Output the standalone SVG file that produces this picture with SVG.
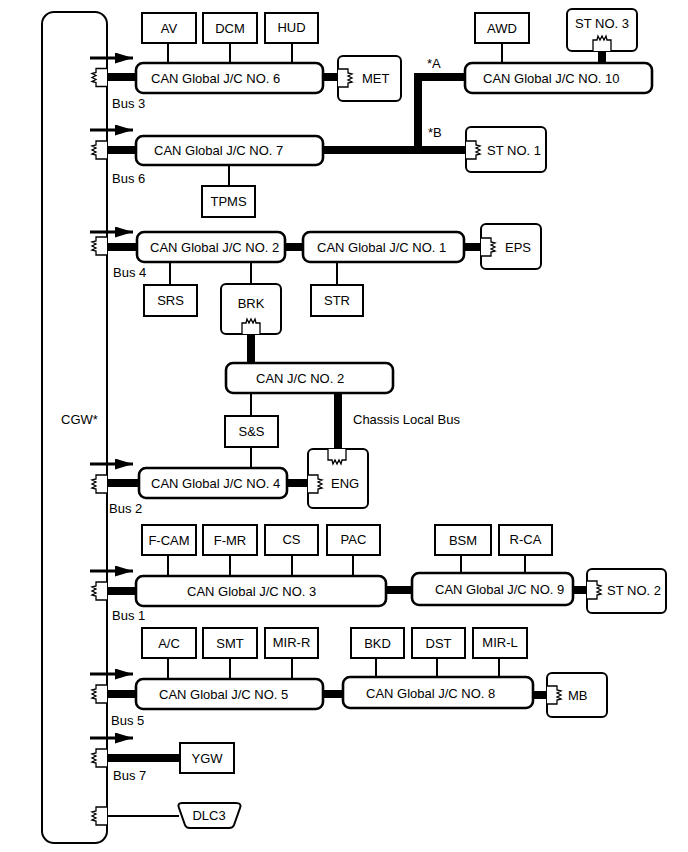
<svg xmlns="http://www.w3.org/2000/svg" width="688" height="852" viewBox="0 0 688 852">
<style>
text{font-family:"Liberation Sans",Arial,sans-serif;font-size:13px;fill:#000}
.c{text-anchor:middle}
.jc{fill:#fff;stroke:#000;stroke-width:2.6}
.bx{fill:#fff;stroke:#000;stroke-width:2}
.thin{stroke:#000;stroke-width:2;fill:none}
.bus{stroke:#000;stroke-width:8;fill:none}
.arr{stroke:#000;stroke-width:2.8;fill:none}
.res{fill:#fff;stroke:#000;stroke-width:1.3}
</style>
<defs>
<marker id="ah" markerUnits="userSpaceOnUse" markerWidth="19" markerHeight="11" refX="18" refY="5.5" orient="auto">
<path d="M0,0L18,5.5L0,11z" fill="#000"/>
</marker>
<path id="rL" d="M11,-9H0V-5L-4,-4L0,-2L-4,0L0,2L-4,4L0,5V9H11"/>
<path id="rR" d="M0,-9H10V-5L14,-4L10,-2L14,0L10,2L14,4L10,5V9H0"/>
<path id="rT" d="M-9,0V-11H-5L-4,-15L-2,-11L0,-15L2,-11L4,-15L5,-11H9V0"/>
<path id="rB" d="M-9,0V11H-5L-4,15L-2,11L0,15L2,11L4,15L5,11H9V0"/>
</defs>

<g id="CGW">
<rect x="42" y="12" width="65" height="831" rx="12" fill="none" stroke="#000" stroke-width="2"/>
<text x="61" y="424">CGW*</text>
</g>

<g id="connectors">
<path class="bus" d="M107,77H136M323,77H338"/>
<path class="bus" d="M107,150H136M323,150H466M418,150V77H465"/>
<path class="bus" d="M602,51V63"/>
<path class="bus" d="M107,247H137M285,247H303M464,247H481"/>
<path class="bus" d="M251,334V363M338,393V450"/>
<path class="bus" d="M107,483H139M287,483H308"/>
<path class="bus" d="M107,591H136M386,590H412M573,590H587"/>
<path class="bus" d="M107,694H136M323,694H343M533,695H547"/>
<path class="bus" d="M107,758H180"/>
<path class="thin" d="M107,816H179"/>
<path class="thin" d="M168,43V63M230,43V63M292,43V63M502,43V63"/>
<path class="thin" d="M229,165V186"/>
<path class="thin" d="M170,262V285M251,262V284M337,262V285"/>
<path class="thin" d="M251,393V416M251,447V468"/>
<path class="thin" d="M168,555V576M230,555V576M292,555V576M353,555V576M461,555V573M525,555V573"/>
<path class="thin" d="M168,658V679M230,658V679M292,658V679M376,658V677M437,658V677M499,658V677"/>
<g class="arr" marker-end="url(#ah)">
<line x1="90" y1="58" x2="133" y2="58"/>
<line x1="90" y1="130" x2="133" y2="130"/>
<line x1="90" y1="232" x2="133" y2="232"/>
<line x1="90" y1="464" x2="133" y2="464"/>
<line x1="90" y1="571" x2="133" y2="571"/>
<line x1="90" y1="674" x2="133" y2="674"/>
<line x1="90" y1="738" x2="133" y2="738"/>
</g>
</g>

<g id="CGW-terminators" class="res">
<use href="#rL" x="96" y="77.5"/>
<use href="#rL" x="96" y="150"/>
<use href="#rL" x="96" y="246"/>
<use href="#rL" x="96" y="484"/>
<use href="#rL" x="96" y="591"/>
<use href="#rL" x="96" y="694"/>
<use href="#rL" x="96" y="758"/>
<use href="#rL" x="96" y="816"/>
</g>

<g id="bus-labels">
<text x="112" y="108">Bus 3</text>
<text x="112" y="183">Bus 6</text>
<text x="113" y="277">Bus 4</text>
<text x="109" y="513">Bus 2</text>
<text x="112" y="620">Bus 1</text>
<text x="111" y="725">Bus 5</text>
<text x="113" y="780">Bus 7</text>
<text x="427" y="68">*A</text>
<text x="428" y="137">*B</text>
<text x="353" y="424">Chassis Local Bus</text>
</g>

<g id="AV"><rect class="bx" x="142" y="13" width="54" height="30"/><text class="c" x="169" y="33">AV</text></g>
<g id="DCM"><rect class="bx" x="203" y="13" width="54" height="30"/><text class="c" x="230" y="33">DCM</text></g>
<g id="HUD"><rect class="bx" x="265" y="13" width="53" height="30"/><text class="c" x="291.5" y="32">HUD</text></g>
<g id="JC6"><rect class="jc" x="136" y="63" width="187" height="30" rx="7"/><text x="151" y="83">CAN Global J/C NO. 6</text></g>
<g id="MET"><rect class="bx" x="338" y="56" width="63" height="45" rx="5"/><use class="res" href="#rR" x="338" y="78"/><text x="362" y="83">MET</text></g>

<g id="JC7"><rect class="jc" x="136" y="136" width="187" height="29" rx="7"/><text x="154" y="155">CAN Global J/C NO. 7</text></g>
<g id="TPMS"><rect class="bx" x="202" y="186" width="53" height="31"/><text class="c" x="228.5" y="206">TPMS</text></g>
<g id="AWD"><rect class="bx" x="475" y="13" width="54" height="30"/><text class="c" x="502" y="33">AWD</text></g>
<g id="ST3"><rect class="bx" x="567" y="9" width="70" height="42" rx="5"/><text class="c" x="602" y="28">ST NO. 3</text><use class="res" href="#rT" x="602" y="51"/></g>
<g id="JC10"><rect class="jc" x="465" y="63" width="187" height="30" rx="7"/><text x="483" y="83">CAN Global J/C NO. 10</text></g>
<g id="ST1"><rect class="bx" x="466" y="127" width="80" height="45" rx="5"/><use class="res" href="#rR" x="466" y="150"/><text x="487" y="155">ST NO. 1</text></g>

<g id="JC2"><rect class="jc" x="137" y="232" width="148" height="30" rx="7"/><text x="150" y="252">CAN Global J/C NO. 2</text></g>
<g id="JC1"><rect class="jc" x="303" y="232" width="161" height="30" rx="7"/><text x="317" y="252">CAN Global J/C NO. 1</text></g>
<g id="EPS"><rect class="bx" x="481" y="224" width="60" height="45" rx="5"/><use class="res" href="#rR" x="481" y="247"/><text x="505" y="252">EPS</text></g>
<g id="SRS"><rect class="bx" x="144" y="285" width="53" height="31"/><text class="c" x="170.5" y="305">SRS</text></g>
<g id="BRK"><rect class="bx" x="221" y="284" width="60" height="50" rx="5"/><text class="c" x="251" y="308">BRK</text><use class="res" href="#rT" x="251" y="334"/></g>
<g id="STR"><rect class="bx" x="311" y="285" width="52" height="31"/><text class="c" x="337" y="305">STR</text></g>
<g id="CANJC2"><rect class="jc" x="226" y="363" width="167" height="30" rx="7"/><text x="256" y="383">CAN J/C NO. 2</text></g>
<g id="SS"><rect class="bx" x="225" y="416" width="53" height="31"/><text class="c" x="251.5" y="436">S&amp;S</text></g>
<g id="ENG"><rect class="bx" x="308" y="449" width="60" height="59" rx="5"/><use class="res" href="#rB" x="337" y="449"/><use class="res" href="#rR" x="308" y="484"/><text x="331" y="488">ENG</text></g>

<g id="JC4"><rect class="jc" x="139" y="468" width="148" height="30" rx="7"/><text x="151" y="488">CAN Global J/C NO. 4</text></g>

<g id="FCAM"><rect class="bx" x="142" y="525" width="54" height="30"/><text class="c" x="169" y="545">F-CAM</text></g>
<g id="FMR"><rect class="bx" x="203" y="525" width="54" height="30"/><text class="c" x="230" y="545">F-MR</text></g>
<g id="CS"><rect class="bx" x="265" y="525" width="53" height="30"/><text class="c" x="291.5" y="544">CS</text></g>
<g id="PAC"><rect class="bx" x="327" y="525" width="53" height="30"/><text class="c" x="353.5" y="544">PAC</text></g>
<g id="JC3"><rect class="jc" x="136" y="576" width="250" height="30" rx="7"/><text x="187" y="596">CAN Global J/C NO. 3</text></g>
<g id="BSM"><rect class="bx" x="435" y="525" width="56" height="30"/><text class="c" x="463" y="545">BSM</text></g>
<g id="RCA"><rect class="bx" x="499" y="525" width="53" height="30"/><text class="c" x="525.5" y="544">R-CA</text></g>
<g id="JC9"><rect class="jc" x="412" y="573" width="161" height="32" rx="7"/><text x="435" y="594">CAN Global J/C NO. 9</text></g>
<g id="ST2"><rect class="bx" x="587" y="569" width="79" height="44" rx="5"/><use class="res" href="#rR" x="587" y="590"/><text x="607" y="595">ST NO. 2</text></g>

<g id="AC"><rect class="bx" x="142" y="628" width="54" height="30"/><text class="c" x="169" y="648">A/C</text></g>
<g id="SMT"><rect class="bx" x="203" y="628" width="54" height="30"/><text class="c" x="230" y="648">SMT</text></g>
<g id="MIRR"><rect class="bx" x="265" y="628" width="53" height="30"/><text class="c" x="291.5" y="647">MIR-R</text></g>
<g id="BKD"><rect class="bx" x="351" y="628" width="53" height="30"/><text class="c" x="377.5" y="648">BKD</text></g>
<g id="DST"><rect class="bx" x="412" y="628" width="53" height="30"/><text class="c" x="438.5" y="648">DST</text></g>
<g id="MIRL"><rect class="bx" x="473" y="628" width="54" height="30"/><text class="c" x="500" y="647">MIR-L</text></g>
<g id="JC5"><rect class="jc" x="136" y="679" width="187" height="30" rx="7"/><text x="159" y="699">CAN Global J/C NO. 5</text></g>
<g id="JC8"><rect class="jc" x="343" y="677" width="190" height="31" rx="7"/><text x="366" y="698">CAN Global J/C NO. 8</text></g>
<g id="MB"><rect class="bx" x="547" y="673" width="60" height="44" rx="5"/><use class="res" href="#rR" x="547" y="695"/><text x="568" y="700">MB</text></g>

<g id="YGW"><rect class="bx" x="180" y="743" width="54" height="30"/><text class="c" x="207" y="763">YGW</text></g>
<g id="DLC3"><path class="bx" d="M182,803H236Q242,803 240,808L234,825Q233,828 229,828H190Q186,828 185,825L179,808Q177,803 182,803Z"/><text class="c" x="209" y="820">DLC3</text></g>
</svg>
